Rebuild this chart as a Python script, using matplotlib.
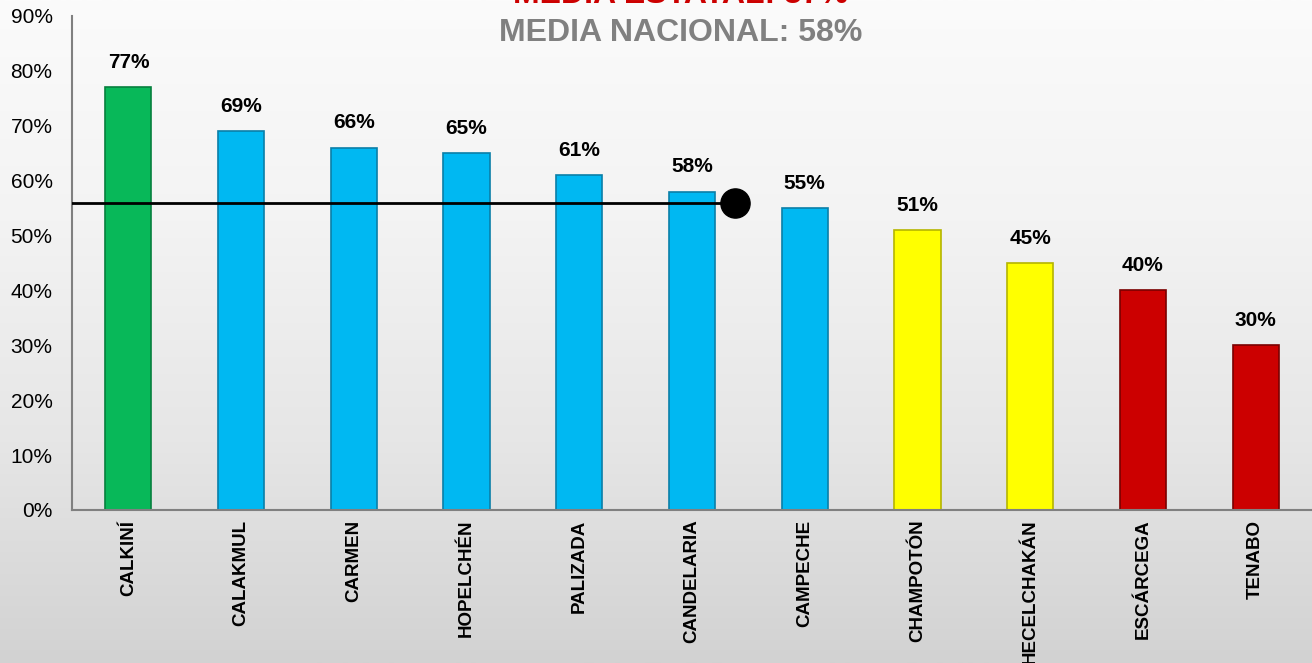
import numpy as np
import matplotlib
matplotlib.use("Agg")
import matplotlib.pyplot as plt

plt.rcParams['font.family'] = ['Liberation Sans', 'DejaVu Sans']

# datos
municipios = ['CALKINÍ', 'CALAKMUL', 'CARMEN', 'HOPELCHÉN', 'PALIZADA', 'CANDELARIA',
              'CAMPECHE', 'CHAMPOTÓN', 'HECELCHAKÁN', 'ESCÁRCEGA', 'TENABO']
valores = [77, 69, 66, 65, 61, 58, 55, 51, 45, 40, 30]
colores = ['#08b859', '#00b8f2', '#00b8f2', '#00b8f2', '#00b8f2', '#00b8f2',
           '#00b8f2', '#ffff00', '#ffff00', '#cc0000', '#cc0000']
bordes = ['#06803e', '#0a7fa8', '#0a7fa8', '#0a7fa8', '#0a7fa8', '#0a7fa8',
          '#0a7fa8', '#b5b500', '#b5b500', '#7a0000', '#7a0000']
media_estatal = 56
fin_linea = 5.38
yticks = [0, 10, 20, 30, 40, 50, 60, 70, 80, 90]

fig = plt.figure(figsize=(13.12, 6.63), dpi=100)

# fondo degradado
bg = fig.add_axes([0, 0, 1, 1], zorder=-10)
grad = np.linspace(0, 1, 256).reshape(-1, 1)
bg.imshow(grad, aspect='auto', cmap=matplotlib.colors.LinearSegmentedColormap.from_list(
    'g', ['#fbfbfb', '#f3f3f3', '#e6e6e6', '#d2d2d2']), extent=[0, 1, 0, 1])
bg.axis('off')

ax = fig.add_axes([0.0549, 0.2308, 0.9451, 0.7451])
ax.patch.set_alpha(0)
x = np.arange(len(municipios))
ax.bar(x, valores, width=0.41, color=colores, edgecolor=bordes, linewidth=1.2, zorder=2)

for xi, v in zip(x, valores):
    ax.annotate(f'{v}%', (xi, v), xytext=(0, 11), textcoords='offset points',
                ha='center', va='bottom', fontsize=15, fontweight='bold')

ax.plot([-0.5, fin_linea], [media_estatal, media_estatal], color='black', lw=2, zorder=3)
ax.plot([fin_linea], [media_estatal], 'o', color='black', ms=21, zorder=4)

ax.set_xlim(-0.5, len(municipios) - 0.5)
ax.set_ylim(0, 90)
ax.set_yticks(yticks)
ax.set_yticklabels([f'{t}%' for t in yticks], fontsize=15)
ax.set_xticks(x)
ax.set_xticklabels(municipios, rotation=90, fontsize=13.5, fontweight='bold', va='top')
ax.tick_params(axis='x', length=0, pad=7)
ax.tick_params(axis='y', length=0, pad=14)
for s in ['top', 'right']:
    ax.spines[s].set_visible(False)
for s in ['left', 'bottom']:
    ax.spines[s].set_color('#808080')
    ax.spines[s].set_linewidth(1.5)

fig.text(0.519, 1.0 - 3 / 663, 'MEDIA ESTATAL: 57%', ha='center', va='baseline',
         fontsize=23, fontweight='bold', color='#cc0000')
fig.text(0.519, 1.0 - 33 / 663, 'MEDIA NACIONAL: 58%', ha='center', va='center',
         fontsize=23, fontweight='bold', color='#808080')

fig.savefig('out.png', dpi=100)
